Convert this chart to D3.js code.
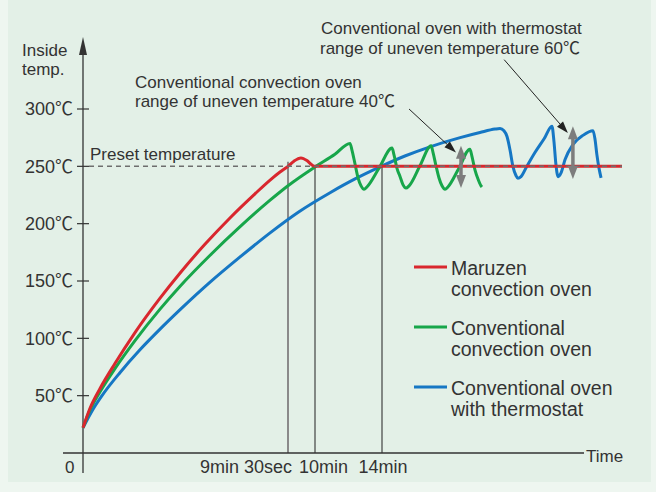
<!DOCTYPE html>
<html>
<head>
<meta charset="utf-8">
<script src="https://cdn.jsdelivr.net/npm/d3@7"></script>
<style>
  body { margin: 0; background: #eef6f0; }
  svg { display: block; font-family: "Liberation Sans", Arial, "Noto Sans CJK JP", sans-serif; }
</style>
</head>
<body>
<svg id="chart" width="656" height="492"></svg>
<script>
// time axis is schematic: break points in minutes (piecewise scale)
const timeBreaks = [0, 9.5, 10, 14, 25];
const tempTicks = [50, 100, 150, 200, 250, 300];
const presetTemp = 250;
const timeTicks = [9.5, 10, 14];
const timeTickLabels = ['9min 30sec', '10min', '14min'];

// Maruzen convection oven
const maruzenTime = [0, 0.32, 0.79, 1.48, 2.41, 3.57, 4.5, 5.65, 6.81, 7.97, 8.67, 9.13, 9.5, 9.61, 9.74, 9.85, 9.94, 10, 25];
const maruzenTemp = [22, 38.8, 56.3, 78, 105, 135, 157, 182, 205, 226, 238, 245, 250, 254.5, 257.3, 255, 251.3, 250, 250];

// Conventional convection oven
const convectionTime = [0, 0.32, 0.79, 1.48, 2.41, 3.57, 4.5, 5.89, 7.28, 8.67, 9.5, 10, 11.19, 12.09,
  12.21, 12.39, 12.57, 12.75, 12.93, 13.1, 13.82, 14.46,
  14.55, 14.69, 14.83, 14.96, 15.1, 15.24, 15.74, 16.25,
  16.34, 16.48, 16.61, 16.75, 16.89, 17.02, 17.53, 18.03,
  18.12, 18.26, 18.4, 18.54, 18.58];
const convectionTemp = [22, 37.4, 53.4, 73.6, 98, 125.5, 145.5, 172.5, 197.4, 220.5, 233.1, 249.5, 260.5, 270,
  264, 252, 240, 233, 230, 232, 248.3, 266,
  260, 248, 241, 234, 231, 233, 250.5, 268,
  262, 250, 240, 233, 230, 232, 248.5, 265,
  259, 247, 239, 233, 232];

// Conventional oven with thermostat
const thermostatTime = [0, 0.46, 0.88, 1.71, 2.64, 3.57, 4.5, 5.89, 7.28, 8.67, 9.69, 10.9, 12.39, 13.88, 15.05, 16.2, 17.58,
  18.49, 19.18, 19.41, 19.59, 19.73, 19.87, 20.0, 20.14, 20.23, 20.37, 20.64, 21.01, 21.43, 21.79,
  21.88, 21.97, 22.07, 22.2, 22.39, 22.75, 23.21, 23.67, 23.76, 23.85, 23.95, 24.04];
const thermostatTemp = [22, 38, 50, 70, 90, 108, 125, 149, 171, 192, 210, 227, 239, 249.5, 259, 267, 275,
  279.5, 282.5, 283, 281, 276, 264, 250, 242, 239.5, 241, 250, 262, 274, 285,
  272, 252, 241, 244, 256, 269, 277, 281, 274, 260, 248, 240];

// uneven temperature ranges (double arrows) and pointers to them
const rangeTime = [17.62, 22.75];
const rangeHigh = [268, 285];
const rangeLow = [231, 239];
const pointerFromTime = [15.24, 19.6];
const pointerFromTemp = [300, 343];
const pointerToTime = [17.39, 22.52];
const pointerToTemp = [262, 279];

const seriesNames = [['Maruzen', 'convection oven'], ['Conventional', 'convection oven'], ['Conventional oven', 'with thermostat']];
const colors = ['#d9272e', '#17a64a', '#1677c4'];

const svg = d3.select('#chart');

svg.append('rect').attr('x', 8).attr('y', 0).attr('width', 643).attr('height', 482).attr('fill', '#e3f0e7');

const x0 = 83, xAxisY = 453;
const x = d3.scaleLinear().domain(timeBreaks).range([x0, 288, 315, 382, 622]);
const y = d3.scaleLinear().domain([0, 300]).range([xAxisY, 109]);

const ink = '#333';

// vertical guide lines at marked times
timeTicks.forEach((t, i) => {
  svg.append('line')
    .attr('x1', x(t)).attr('x2', x(t))
    .attr('y1', xAxisY).attr('y2', y(i === 0 ? 254 : presetTemp))
    .attr('stroke', i === 0 ? '#8a8a8a' : ink)
    .attr('stroke-width', i === 0 ? 2 : 1.1);
});

// x axis
svg.append('line').attr('x1', 63).attr('x2', 584).attr('y1', xAxisY).attr('y2', xAxisY)
  .attr('stroke', ink).attr('stroke-width', 1.3);
svg.append('text').attr('x', 586).attr('y', 462).attr('font-size', 17).attr('fill', ink).text('Time');
svg.append('text').attr('x', 65).attr('y', 473).attr('font-size', 17).attr('fill', ink).text('0');

const labelAnchor = ['end', 'start', 'middle'];
const labelShift = [4, -16, 1];
timeTicks.forEach((t, i) => {
  svg.append('text')
    .attr('x', x(t) + labelShift[i]).attr('y', 473)
    .attr('text-anchor', labelAnchor[i])
    .attr('font-size', 18).attr('fill', ink)
    .text(timeTickLabels[i]);
});

// y axis with arrow
svg.append('line').attr('x1', x0).attr('x2', x0).attr('y1', 473).attr('y2', 50)
  .attr('stroke', ink).attr('stroke-width', 1.3);
svg.append('path').attr('d', `M${x0},37 L${x0 - 4},55 L${x0 + 4},55 Z`).attr('fill', ink);

tempTicks.forEach(v => {
  svg.append('line').attr('x1', x0 - 6).attr('x2', x0 + 6).attr('y1', y(v)).attr('y2', y(v))
    .attr('stroke', ink).attr('stroke-width', 1.2);
  svg.append('text').attr('x', 73).attr('y', y(v)).attr('dy', '0.36em')
    .attr('text-anchor', 'end').attr('font-size', 18).attr('fill', ink)
    .text(v + '℃');
});

svg.append('text').attr('x', 22).attr('y', 56).attr('font-size', 17).attr('fill', ink).text('Inside');
svg.append('text').attr('x', 22).attr('y', 75).attr('font-size', 17).attr('fill', ink).text('temp.');

svg.append('text').attr('x', 90).attr('y', 160).attr('font-size', 17).attr('fill', ink).text('Preset temperature');

// curves
const line = d3.line()
  .x(d => x(d[0]))
  .y(d => y(d[1]))
  .curve(d3.curveMonotoneX);

const series = [
  d3.zip(thermostatTime, thermostatTemp),
  d3.zip(convectionTime, convectionTemp),
  d3.zip(maruzenTime, maruzenTemp)
];
const seriesColor = [colors[2], colors[1], colors[0]];
series.forEach((s, i) => {
  svg.append('path').datum(s)
    .attr('fill', 'none')
    .attr('stroke', seriesColor[i])
    .attr('stroke-width', 3)
    .attr('stroke-linejoin', 'round')
    .attr('d', line);
});

// preset temperature dashed line
svg.append('line').attr('x1', x0 + 6).attr('x2', x(25)).attr('y1', y(presetTemp)).attr('y2', y(presetTemp))
  .attr('stroke', '#6e6e6e').attr('stroke-width', 1.5).attr('stroke-dasharray', '5,4');

// gray double arrows
rangeTime.forEach((t, i) => {
  const cx = x(t), top = y(rangeHigh[i]), bot = y(rangeLow[i]);
  svg.append('line').attr('x1', cx).attr('x2', cx).attr('y1', top + 10).attr('y2', bot - 10)
    .attr('stroke', '#7d7d7d').attr('stroke-width', 3.5);
  svg.append('path').attr('d', `M${cx},${top} L${cx - 5},${top + 13} L${cx + 5},${top + 13} Z`).attr('fill', '#7d7d7d');
  svg.append('path').attr('d', `M${cx},${bot} L${cx - 5},${bot - 13} L${cx + 5},${bot - 13} Z`).attr('fill', '#7d7d7d');
});

// pointer arrows
pointerFromTime.forEach((t, i) => {
  const xa = x(t), ya = y(pointerFromTemp[i]);
  const xb = x(pointerToTime[i]), yb = y(pointerToTemp[i]);
  const ang = Math.atan2(yb - ya, xb - xa);
  const len = 12, w = 4;
  const bx = xb - len * Math.cos(ang), by = yb - len * Math.sin(ang);
  svg.append('line').attr('x1', xa).attr('y1', ya).attr('x2', bx).attr('y2', by)
    .attr('stroke', '#222').attr('stroke-width', 1);
  svg.append('path')
    .attr('d', `M${xb},${yb} L${bx - w * Math.sin(ang)},${by + w * Math.cos(ang)} L${bx + w * Math.sin(ang)},${by - w * Math.cos(ang)} Z`)
    .attr('fill', '#222');
});

const note1 = svg.append('text').attr('font-size', 17).attr('fill', ink);
note1.append('tspan').attr('x', 135).attr('y', 88).text('Conventional convection oven');
note1.append('tspan').attr('x', 135).attr('y', 107).text('range of uneven temperature 40℃');

const note2 = svg.append('text').attr('font-size', 17).attr('fill', ink);
note2.append('tspan').attr('x', 321).attr('y', 34).text('Conventional oven with thermostat');
note2.append('tspan').attr('x', 320).attr('y', 54).text('range of uneven temperature 60℃');

// legend
const legendY = [267, 327, 387];
seriesNames.forEach((name, i) => {
  svg.append('line').attr('x1', 414).attr('x2', 447).attr('y1', legendY[i]).attr('y2', legendY[i])
    .attr('stroke', colors[i]).attr('stroke-width', 3);
  const t = svg.append('text').attr('font-size', 19.5).attr('fill', ink);
  t.append('tspan').attr('x', 451).attr('y', legendY[i] + 8).text(name[0]);
  t.append('tspan').attr('x', 451).attr('y', legendY[i] + 29).text(name[1]);
});
</script>
</body>
</html>
